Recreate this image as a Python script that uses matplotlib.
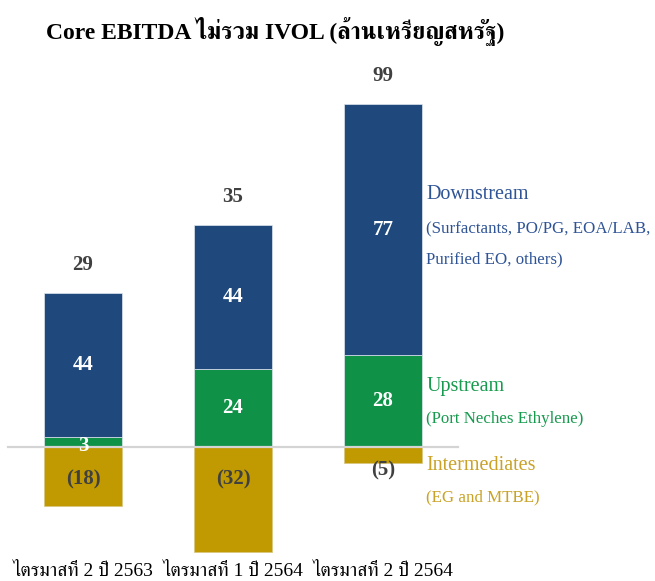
import matplotlib
matplotlib.use("Agg")
import matplotlib.pyplot as plt
import numpy as np

quarters = ["ไตรมาสที่ 2 ปี 2563", "ไตรมาสที่ 1 ปี 2564", "ไตรมาสที่ 2 ปี 2564"]
upstream = [3, 24, 28]
downstream = [44, 44, 77]
intermediates = [-18, -32, -5]
totals = [29, 35, 99]

c_down = "#1F497D"
c_up = "#0F9247"
c_int = "#C09A00"
t_down = "#2F5496"
t_up = "#179A4E"
t_int = "#C9A227"
dark = "#404040"

serif = ["Liberation Serif", "FreeSerif"]
plt.rcParams["font.family"] = serif

fig = plt.figure(figsize=(6.55, 5.81), dpi=100)
ax = fig.add_axes([0, 0, 1, 1])
# 150 px per category, 3.27 px per unit, baseline at y=447 px
ppu = 3.27
ax.set_xlim(-83 / 150, (655 - 83) / 150)
ax.set_ylim(-134 / ppu, 447 / ppu)
ax.axis("off")

x = np.arange(len(quarters))
w = 0.515
edge = dict(edgecolor="#dfe6ee", linewidth=0.5, zorder=2)
ax.bar(x, upstream, w, color=c_up, **edge)
ax.bar(x, downstream, w, bottom=upstream, color=c_down, **edge)
ax.bar(x, intermediates, w, color=c_int, edgecolor="#d9c680", linewidth=0.5,
       zorder=2)
ax.plot([-0.5, 2.5], [0, 0], color="#d4d4d4", lw=1.6, zorder=3)

for i in range(len(x)):
    uy = upstream[i] / 2 if upstream[i] > 5 else 0.3
    ax.text(x[i], uy, str(upstream[i]), color="white",
            fontsize=15, fontweight="bold", ha="center", va="center", zorder=4)
    ax.text(x[i], upstream[i] + downstream[i] / 2, str(downstream[i]),
            color="white", fontsize=15, fontweight="bold", ha="center",
            va="center", zorder=4)
    top = upstream[i] + downstream[i]
    ax.annotate(str(totals[i]), (x[i], top), xytext=(0, 13),
                textcoords="offset points", color=dark, fontsize=15,
                fontweight="bold", ha="center", va="bottom")
    v = intermediates[i]
    ly = v - 2.2 if v > -7.5 else -9.8
    ax.text(x[i], ly, f"({abs(v)})", color=dark, fontsize=15,
            fontweight="bold", ha="center", va="center", zorder=4)
    ax.text(x[i], -125 / ppu, quarters[i], color="black", fontsize=14,
            ha="center", va="center")

lx = 2.29
ax.text(lx, 252 / ppu, "Downstream", color=t_down, fontsize=14.5,
        va="center")
ax.text(lx, 218 / ppu, "(Surfactants, PO/PG, EOA/LAB,", color=t_down,
        fontsize=12.2, va="center")
ax.text(lx, 188 / ppu, "Purified EO, others)", color=t_down, fontsize=12.2,
        va="center")
ax.text(lx, 60 / ppu, "Upstream", color=t_up, fontsize=14.5, va="center")
ax.text(lx, 28 / ppu, "(Port Neches Ethylene)", color=t_up, fontsize=12.2,
        va="center")
ax.text(lx, -18 / ppu, "Intermediates", color=t_int, fontsize=14.5,
        va="center")
ax.text(lx, -50 / ppu, "(EG and MTBE)", color=t_int, fontsize=12.2,
        va="center")

fig.text(275 / 655, 1 - 31 / 581, "Core EBITDA ไม่รวม IVOL (ล้านเหรียญสหรัฐ)",
         fontsize=17, fontweight="bold", ha="center", va="center")

fig.savefig("out.png")
